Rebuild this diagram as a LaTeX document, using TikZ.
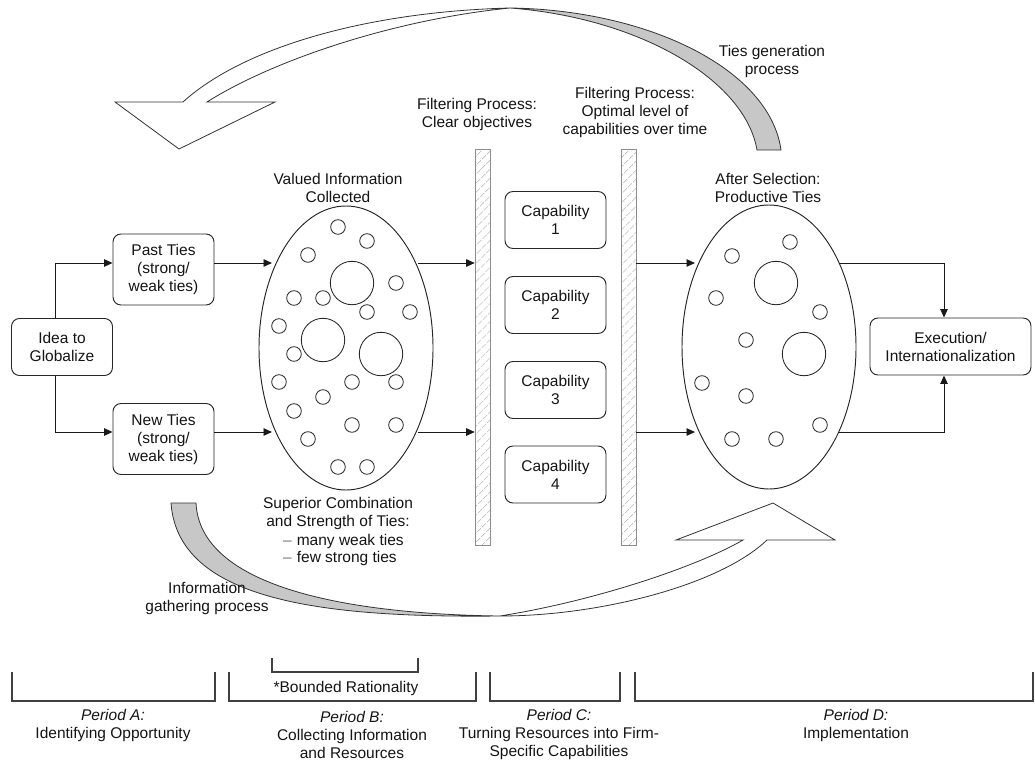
\documentclass[tikz,border=0pt]{standalone}
\usepackage{fontspec}
\setmainfont{Liberation Sans}
\usetikzlibrary{arrows.meta,shapes.geometric,patterns.meta}
\begin{document}
\begin{tikzpicture}[x=1pt,y=-1pt,
  every node/.style={font=\fontsize{15.5}{18}\selectfont, text=black!92},
  box/.style={draw=black!85, line width=0.95pt, rounded corners=8pt, align=center,
              inner sep=0pt, minimum width=101pt, minimum height=57pt},
  lbl/.style={align=center, inner sep=0pt},
  arr/.style={draw=black!90, line width=0.95pt, -{Triangle[length=8.5pt,width=7.5pt]}},
  blob/.style={draw=black!85, line width=0.95pt, ellipse, inner sep=0pt,
               minimum width=174pt, minimum height=284pt},
  dot/.style={draw=black!85, line width=0.85pt},
  filterbar/.style={draw=black!45, line width=0.8pt, fill=white,
               pattern={Lines[angle=45,distance=6.5pt,line width=0.6pt]}, pattern color=black!40},
  ribbon/.style={draw=black!80, line width=0.8pt, line join=miter},
  period/.style={draw=black!75, line width=1.1pt}]
\useasboundingbox (0,0) rectangle (1035,760);

% ---------- curved process arrows ----------
% ties generation (top): grey back side, then white front with head
\path[ribbon, fill=black!22] (510,8) .. controls (650,10) and (770,70) .. (781,150)
  -- (757,150) .. controls (745,80) and (640,18) .. (510,8) -- cycle;
\path[ribbon, fill=white] (510,8) .. controls (360,12) and (240,50) .. (183,102)
  -- (115,102) -- (179,149) -- (275,102) -- (207,102)
  .. controls (270,62) and (390,20) .. (510,8) -- cycle;
% information gathering (bottom)
\path[ribbon, fill=black!22] (171,503) .. controls (178,600) and (320,618) .. (500,616)
  .. controls (340,614) and (200,585) .. (196,503) -- cycle;
\path[ribbon, fill=white] (500,616) .. controls (600,600) and (700,565) .. (743,540)
  -- (676,540) -- (773,503) -- (835,540) -- (767,540)
  .. controls (720,585) and (600,616) .. (500,616) -- cycle;

% ---------- labels of the process arrows ----------
\node[lbl] (tiesgen) at (772,61.5) {Ties generation\\process};
\node[lbl] (infogath) at (207,598) {Information\\gathering process};

% ---------- period A ----------
\node[box] (idea) at (62,347) {Idea to\\Globalize};
\node[box, minimum height=71pt] (past) at (163.5,269.5) {Past Ties\\(strong/\\weak ties)};
\node[box, minimum height=71pt] (new) at (163.5,439) {New Ties\\(strong/\\weak ties)};

% ---------- period B ----------
\node[blob] (infoset) at (346,348) {};
\node[lbl] (valued) at (338,187.5) {Valued Information\\Collected};
\foreach \x/\y in {338/227,367/241,308/255,396/283,294/298,323/298,367/312,410/312,
                   279/326,294/354,279/382,352/382,396/382,323/397,294/411,352/425,
                   396/425,308/439,338/467,367/467}
  \draw[dot] (\x,\y) circle (7.3);
\foreach \x/\y in {352/283,323/340,381/354}
  \draw[dot] (\x,\y) circle (21.7);
\node[lbl] (superior) at (338,513) {Superior Combination\\and Strength of Ties:};
\node[lbl, anchor=west] (many) at (283,541) {{\color{black!55}–}\hspace{5pt}many weak ties};
\node[lbl, anchor=west] (few) at (283,558) {{\color{black!55}–}\hspace{5pt}few strong ties};

% ---------- period C ----------
\node[filterbar, minimum width=15pt, minimum height=396pt, inner sep=0pt] (bar1) at (482.5,347) {};
\node[filterbar, minimum width=15pt, minimum height=396pt, inner sep=0pt] (bar2) at (628.5,347) {};
\node[lbl] (filt1) at (477,114) {Filtering Process:\\Clear objectives};
\node[lbl] (filt2) at (635,112.5) {Filtering Process:\\Optimal level of\\capabilities over time};
\node[box] (cap1) at (555.5,220) {Capability\\1};
\node[box] (cap2) at (555.5,305) {Capability\\2};
\node[box] (cap3) at (555.5,390) {Capability\\3};
\node[box] (cap4) at (555.5,474.5) {Capability\\4};

% ---------- period D ----------
\node[blob] (tieset) at (769,347) {};
\node[lbl] (after) at (768,188) {After Selection:\\Productive Ties};
\foreach \x/\y in {790/242,732/256,716/298,820/312,746/340,702/383,746/396,820/425,
                   732/439,776/439}
  \draw[dot] (\x,\y) circle (7.3);
\foreach \x/\y in {776/283,804/354}
  \draw[dot] (\x,\y) circle (21.7);
\node[box, minimum width=161pt] (exec) at (950.5,346.5) {Execution/\\Internationalization};

% ---------- connectors ----------
\coordinate (up) at (55,263);
\coordinate (down) at (55,432);
\coordinate (inA) at (272,263);
\coordinate (inB) at (272,432);
\coordinate (outA) at (418,263);
\coordinate (outB) at (418,432);
\coordinate (inC) at (695,263);
\coordinate (inD) at (695,432);
\coordinate (outC) at (839,263);
\coordinate (outD) at (839,432);
\draw[arr] (idea.north -| up) |- (past.west |- up);
\draw[arr] (idea.south -| down) |- (new.west |- down);
\draw[arr] (past.east |- up) -- (inA);
\draw[arr] (new.east |- down) -- (inB);
\draw[arr] (outA) -- (bar1.west |- outA);
\draw[arr] (outB) -- (bar1.west |- outB);
\draw[arr] (bar2.east |- inC) -- (inC);
\draw[arr] (bar2.east |- inD) -- (inD);
\draw[arr] (outC) -| ([xshift=-6.5pt]exec.north);
\draw[arr] (outD) -| ([xshift=-6.5pt]exec.south);

% ---------- periods along the bottom ----------
\draw[period] (12,672) -- (12,701) -- (215,701) -- (215,672);
\draw[period] (229,672) -- (229,701) -- (476,701) -- (476,672);
\draw[period] (490,672) -- (490,701) -- (620,701) -- (620,672);
\draw[period] (635,672) -- (635,701) -- (1033,701) -- (1033,672);
\draw[period] (272,658) -- (272,672) -- (418,672) -- (418,658);
\node[lbl] (bounded) at (346,688) {*Bounded Rationality};
\node[lbl] (perA) at (113,725.5) {\textit{Period A:}\\Identifying Opportunity};
\node[lbl] (perB) at (352,734.5) {\textit{Period B:}\\Collecting Information\\and Resources};
\node[lbl] (perC) at (559,734.5) {\textit{Period C:}\\Turning Resources into Firm-\\Specific Capabilities};
\node[lbl] (perD) at (856,725.5) {\textit{Period D:}\\Implementation};
\end{tikzpicture}
\end{document}
